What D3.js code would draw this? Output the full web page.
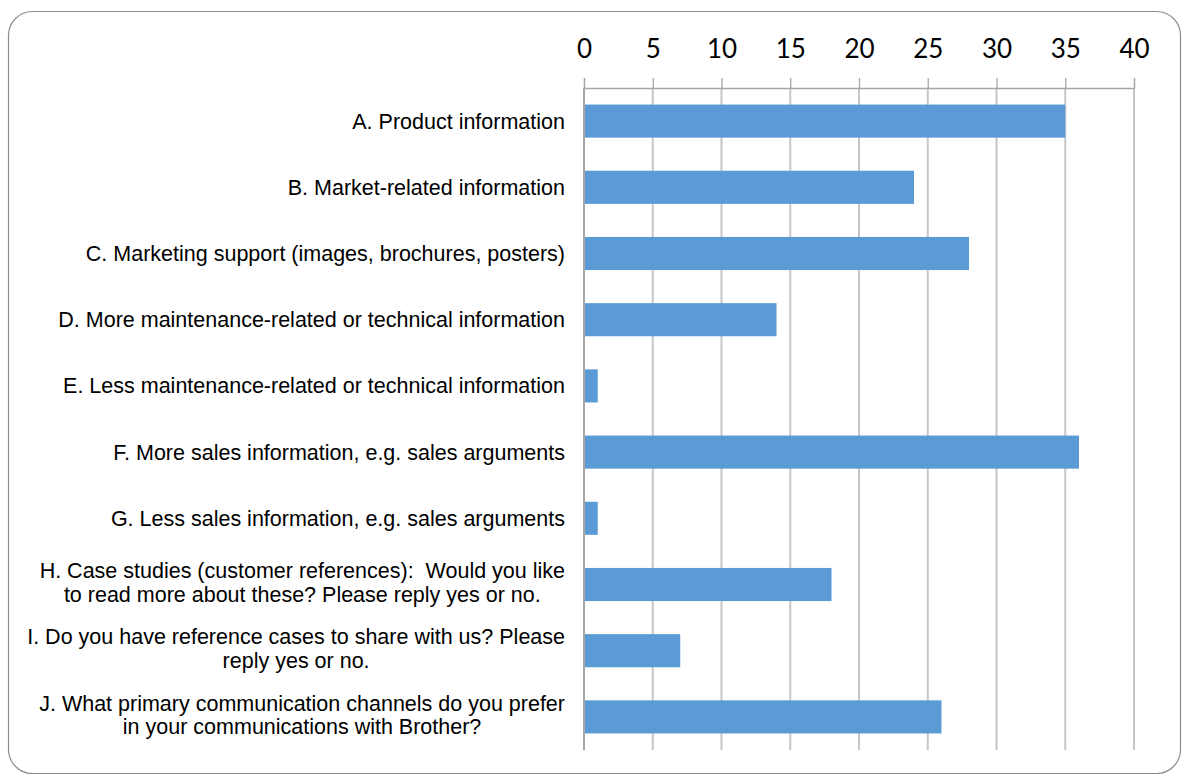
<!DOCTYPE html>
<html>
<head>
<meta charset="utf-8">
<script src="https://cdn.jsdelivr.net/npm/d3@7"></script>
<style>
  body { margin: 0; background: #fff; }
  svg { display: block; }
</style>
</head>
<body>
<svg id="chart"></svg>
<script>
// categorie (righe spezzate come nel grafico originale)
var categorie = [
  ["A. Product information"],
  ["B. Market-related information"],
  ["C. Marketing support (images, brochures, posters)"],
  ["D. More maintenance-related or technical information"],
  ["E. Less maintenance-related or technical information"],
  ["F. More sales information, e.g. sales arguments"],
  ["G. Less sales information, e.g. sales arguments"],
  ["H. Case studies (customer references):  Would you like", "to read more about these? Please reply yes or no."],
  ["I. Do you have reference cases to share with us? Please", "reply yes or no."],
  ["J. What primary communication channels do you prefer", "in your communications with Brother?"]
];
var valori = [35, 24, 28, 14, 1, 36, 1, 18, 7, 26];
var tickValori = [0, 5, 10, 15, 20, 25, 30, 35, 40];

var w = 1188, h = 774;
var x0 = 584, x1 = 1134, yTop = 88, yBot = 750;

var svg = d3.select("#chart").attr("width", w).attr("height", h);

// cornice arrotondata
svg.append("rect")
  .attr("x", 8.5).attr("y", 11.5)
  .attr("width", 1172).attr("height", 762)
  .attr("rx", 24).attr("ry", 24)
  .attr("fill", "none")
  .attr("stroke", "#8c8c8c")
  .attr("stroke-width", 1.2);

var xScale = d3.scaleLinear().domain([0, 40]).range([x0, x1]);
var yScale = d3.scaleBand()
  .domain(d3.range(categorie.length))
  .range([yTop, yBot])
  .paddingInner(0.5).paddingOuter(0.25);

// griglia verticale
svg.append("g")
  .selectAll("line")
  .data(tickValori.slice(1))
  .enter().append("line")
  .attr("x1", function(d) { return xScale(d); })
  .attr("x2", function(d) { return xScale(d); })
  .attr("y1", yTop).attr("y2", yBot)
  .attr("stroke", "#c6c6c6")
  .attr("stroke-width", 2);

// asse superiore
var asse = svg.append("g")
  .attr("transform", "translate(0," + yTop + ")")
  .call(d3.axisTop(xScale).tickValues(tickValori).tickSize(10).tickPadding(20).tickFormat(d3.format("d")));
asse.select(".domain").attr("stroke", "#a6a6a6").attr("stroke-width", 1.3);
asse.selectAll(".tick line").attr("stroke", "#a6a6a6").attr("stroke-width", 1.3);
asse.selectAll(".tick text")
  .attr("fill", "#000")
  .style("font-family", "Lato, 'Open Sans', sans-serif")
  .style("font-size", "26px");

// barre
svg.append("g")
  .selectAll("rect")
  .data(valori)
  .enter().append("rect")
  .attr("x", xScale(0))
  .attr("y", function(d, i) { return yScale(i); })
  .attr("width", function(d) { return xScale(d) - xScale(0); })
  .attr("height", yScale.bandwidth())
  .attr("fill", "#5b9bd5");

// asse verticale a sinistra
svg.append("line")
  .attr("x1", xScale(0)).attr("x2", xScale(0))
  .attr("y1", yTop).attr("y2", yBot)
  .attr("stroke", "#a6a6a6")
  .attr("stroke-width", 2);

// etichette categorie: blocco allineato a destra, righe centrate
var destra = 565, interlinea = 23.5;
categorie.forEach(function(righe, i) {
  var g = svg.append("g");
  var cy = yScale(i) + yScale.bandwidth() / 2 - (righe.length > 1 ? 2 : 0);
  var testi = righe.map(function(r, j) {
    return g.append("text")
      .attr("y", cy + (j - (righe.length - 1) / 2) * interlinea)
      .attr("dy", "0.35em")
      .attr("text-anchor", "middle")
      .style("font-family", "'Liberation Sans', Arial, sans-serif")
      .style("font-size", "21.5px")
      .style("white-space", "pre")
      .attr("fill", "#000")
      .text(r);
  });
  var maxW = d3.max(testi, function(t) { return t.node().getComputedTextLength(); });
  testi.forEach(function(t) { t.attr("x", destra - maxW / 2); });
});
</script>
</body>
</html>
